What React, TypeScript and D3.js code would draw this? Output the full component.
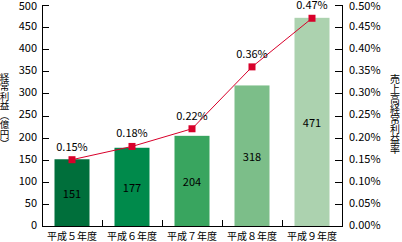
import React from "react";
import * as d3 from "d3";

const categories = ["平成５年度", "平成６年度", "平成７年度", "平成８年度", "平成９年度"];
const profits = [151, 177, 204, 318, 471];
const ratios = [0.15, 0.18, 0.22, 0.36, 0.47];
const leftTicks = [0, 50, 100, 150, 200, 250, 300, 350, 400, 450, 500];
const rightTicks = [0, 0.05, 0.1, 0.15, 0.2, 0.25, 0.3, 0.35, 0.4, 0.45, 0.5];
const barColors = ["#006f3b", "#008a4b", "#39a55f", "#7cbe89", "#acd2af"];
const leftTitle = ["経", "常", "利", "益", "︵", "億", "円", "︶"];
const rightTitle = ["売", "上", "高", "経", "常", "利", "益", "率"];

const W = 402, H = 242;
const L = 42, R = 342, T = 5, B = 226;
const FONT = "'Noto Sans CJK JP', 'DejaVu Sans', sans-serif";

export default function App() {
  const x = d3.scaleBand<string>().domain(categories).range([L, R]).paddingInner(25 / 60).paddingOuter(12.5 / 60);
  const yL = d3.scaleLinear().domain([0, 500]).range([B, T]);
  const yR = d3.scaleLinear().domain([0, 0.5]).range([B, T]);
  const cx = (c: string) => (x(c) as number) + x.bandwidth() / 2;
  const line = d3.line<number>().x((_, i) => cx(categories[i])).y((d) => yR(d));
  const step = x.step();

  return (
    <svg width={W} height={H} style={{ position: "absolute", left: 0, top: 0, background: "#fff" }} fontFamily={FONT}>
      {profits.map((v, i) => (
        <rect key={i} x={x(categories[i])} y={yL(v)} width={x.bandwidth()} height={B - yL(v)} fill={barColors[i]} />
      ))}
      {profits.map((v, i) => (
        <text key={"bl" + i} x={cx(categories[i])} y={(yL(v) + B) / 2 + 2} fontSize={11} textAnchor="middle" dominantBaseline="middle" fill="#000">{v}</text>
      ))}
      {/* axes */}
      <line x1={L + 0.5} x2={L + 0.5} y1={T} y2={B} stroke="#000" />
      <line x1={R + 0.5} x2={R + 0.5} y1={T} y2={B} stroke="#000" />
      <line x1={L} x2={R + 1} y1={B + 0.5} y2={B + 0.5} stroke="#000" />
      {leftTicks.map((t) => (
        <g key={"l" + t}>
          <line x1={L} x2={L + 7} y1={Math.round(yL(t)) + 0.5} y2={Math.round(yL(t)) + 0.5} stroke="#000" />
          <text x={37} y={Math.max(yL(t), 7)} fontSize={11} textAnchor="end" dominantBaseline="middle">{t}</text>
        </g>
      ))}
      {rightTicks.map((t) => (
        <g key={"r" + t}>
          <line x1={R - 7} x2={R} y1={Math.round(yR(t)) + 0.5} y2={Math.round(yR(t)) + 0.5} stroke="#000" />
          <text x={349} y={Math.max(yR(t), 7)} fontSize={11} textAnchor="start" dominantBaseline="middle">{t.toFixed(2)}%</text>
        </g>
      ))}
      {categories.slice(1).map((c, i) => {
        const xx = Math.round((x(c) as number) - (step - x.bandwidth()) / 2) + 0.5;
        return <line key={"ct" + i} x1={xx} x2={xx} y1={B - 6} y2={B} stroke="#000" />;
      })}
      {categories.map((c) => (
        <text key={"c" + c} x={cx(c)} y={237} fontSize={10} textAnchor="middle" dominantBaseline="middle">{c}</text>
      ))}
      {/* line */}
      <path d={line(ratios) || ""} fill="none" stroke="#d8002a" strokeWidth={1} />
      {ratios.map((r, i) => (
        <rect key={"m" + i} x={cx(categories[i]) - 3.5} y={yR(r) - 3.5} width={7} height={7} fill="#d8002a" />
      ))}
      {ratios.map((r, i) => (
        <text key={"rl" + i} x={cx(categories[i])} y={yR(r) - 12} fontSize={11} textAnchor="middle" dominantBaseline="middle">{r.toFixed(2)}%</text>
      ))}
      {/* titles */}
      {leftTitle.map((ch, i) => (
        <text key={"lt" + i} x={4.5} y={78 + i * 9.5} fontSize={9.5} textAnchor="middle" dominantBaseline="middle">{ch}</text>
      ))}
      {rightTitle.map((ch, i) => (
        <text key={"rt" + i} x={395} y={80 + i * 10} fontSize={10} textAnchor="middle" dominantBaseline="middle">{ch}</text>
      ))}
    </svg>
  );
}
